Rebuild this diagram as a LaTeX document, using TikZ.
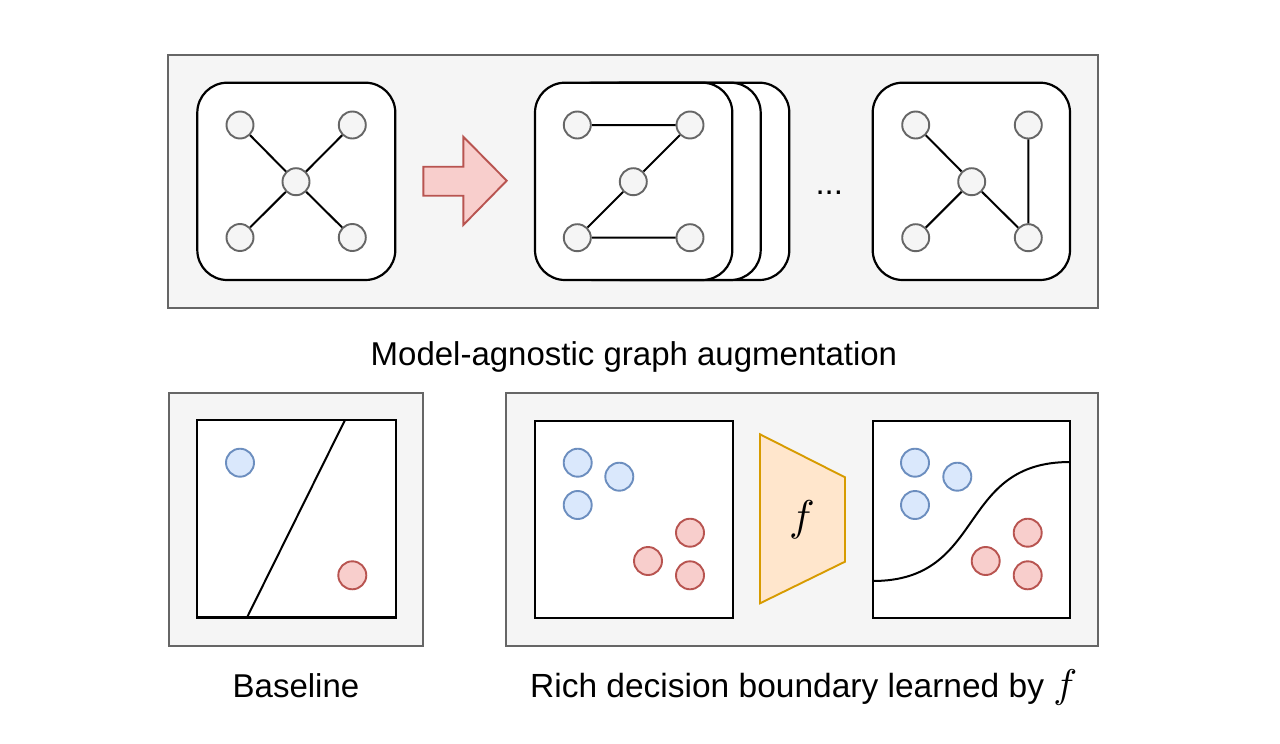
\documentclass[tikz,border=0pt]{standalone}
\usepackage{fontspec}
\setmainfont{Liberation Sans}
\definecolor{panelfill}{HTML}{F5F5F5}
\definecolor{panelline}{HTML}{666666}
\definecolor{bluefill}{HTML}{DAE8FC}
\definecolor{blueline}{HTML}{6C8EBF}
\definecolor{redfill}{HTML}{F8CECC}
\definecolor{redline}{HTML}{B85450}
\definecolor{orangefill}{HTML}{FFE6CC}
\definecolor{orangeline}{HTML}{D79B00}
\newcommand{\bigf}[1]{\scalebox{#1}{\fontsize{10}{12}\selectfont$f$}}
\tikzset{
  panel/.style={draw=panelline, fill=panelfill, line width=2},
  gbox/.style={draw=black, fill=white, line width=2.2, rounded corners=30},
  sqbox/.style={draw=black, fill=white, line width=2.2},
  gnode/.style={circle, draw=panelline, fill=panelfill, line width=1.9, minimum size=27, inner sep=0},
  bluept/.style={circle, draw=blueline, fill=bluefill, line width=1.9, minimum size=28, inner sep=0},
  redpt/.style={circle, draw=redline, fill=redfill, line width=1.9, minimum size=28, inner sep=0},
  gedge/.style={draw=black, line width=2},
  lbl/.style={inner sep=0, font=\fontsize{33}{40}\selectfont},
}
\begin{document}
\begin{tikzpicture}[x=1pt, y=-1pt]
\useasboundingbox (0,0) rectangle (1280,744);
% ---------- top panel ----------
\draw[panel] (168,55) rectangle (1098,307.5);
% first graph
\draw[gbox] (197.3,82.7) rectangle (395.3,280);
\node[gnode] (a1) at (240,125) {};
\node[gnode] (a2) at (352.3,125) {};
\node[gnode] (a3) at (296,181.7) {};
\node[gnode] (a4) at (240,237.5) {};
\node[gnode] (a5) at (352.3,237.5) {};
\draw[gedge] (a1) -- (a3) (a2) -- (a3) (a4) -- (a3) (a5) -- (a3);
% arrow
\draw[draw=redline, fill=redfill, line width=1.9, line join=miter]
  (423.3,166.7) -- (463.3,166.7) -- (463.3,136.7) -- (506.7,180.7)
  -- (463.3,225) -- (463.3,195.7) -- (423.3,195.7) -- cycle;
% stacked graphs
\draw[gbox] (592,82.7) rectangle (789.3,280);
\draw[gbox] (563.5,82.7) rectangle (760.7,280);
\draw[gbox] (535,82.7) rectangle (732.3,280);
\node[gnode] (b1) at (577.3,125) {};
\node[gnode] (b2) at (690,125) {};
\node[gnode] (b3) at (633.3,181.7) {};
\node[gnode] (b4) at (577.3,237.7) {};
\node[gnode] (b5) at (690,237.7) {};
\draw[gedge] (b1) -- (b2) (b2) -- (b3) (b3) -- (b4) (b4) -- (b5);
% dots
\node[lbl, anchor=base] (dots) at (829.3,194.5) {...};
% last graph
\draw[gbox] (872.7,82.7) rectangle (1070,280);
\node[gnode] (c1) at (915.7,125) {};
\node[gnode] (c2) at (1028.3,125) {};
\node[gnode] (c3) at (971.7,181.7) {};
\node[gnode] (c4) at (915.7,237.7) {};
\node[gnode] (c5) at (1028.3,237.7) {};
\draw[gedge] (c1) -- (c3) (c4) -- (c3) (c3) -- (c5) (c2) -- (c5);
\node[lbl, anchor=base west] (t1) at (370.5,365) {Model-agnostic graph augmentation};
% ---------- bottom left panel ----------
\draw[panel] (169,392.5) rectangle (423,646);
\draw[sqbox] (197.3,420) rectangle (395.7,617.5);
\coordinate (l1) at (345,420);
\coordinate (l2) at (247,617.5);
\draw[gedge] (l1) -- (l2);
\node[bluept] (p1) at (240,462.7) {};
\node[redpt] (q1) at (352.3,575.3) {};
\node[lbl, anchor=base] (t2) at (296,697) {Baseline};
% ---------- bottom right panel ----------
\draw[panel] (506,393) rectangle (1098.3,646);
\draw[sqbox] (535,420.7) rectangle (732.7,617.7);
\node[bluept] (p2) at (577.7,462.7) {};
\node[bluept] (p3) at (619.3,476.7) {};
\node[bluept] (p4) at (577.7,505) {};
\node[redpt] (q2) at (690,532.7) {};
\node[redpt] (q3) at (648,561) {};
\node[redpt] (q4) at (690,575.3) {};
% trapezoid f
\draw[draw=orangeline, fill=orangefill, line width=1.9, line join=miter]
  (760,434.3) -- (845,477.3) -- (845,561.7) -- (760,603.3) -- cycle;
\node[inner sep=0] (fn) at (802,520) {\bigf{4.3}};
% right square
\draw[sqbox] (872.7,421) rectangle (1070,617.7);
\coordinate (s1) at (872.7,581);
\coordinate (s2) at (1070,462);
\draw[gedge] (s1) .. controls (987,581) and (956,462) .. (s2);
\node[bluept] (p5) at (915,462.7) {};
\node[bluept] (p6) at (957.3,476.7) {};
\node[bluept] (p7) at (915,505) {};
\node[redpt] (q5) at (1027.7,532.7) {};
\node[redpt] (q6) at (985.7,561) {};
\node[redpt] (q7) at (1027.7,575.3) {};
\node[inner sep=0, font=\fontsize{33.5}{40}\selectfont, anchor=base west] (t3) at (530,697) {Rich decision boundary learned by \bigf{4}};
\end{tikzpicture}
\end{document}
